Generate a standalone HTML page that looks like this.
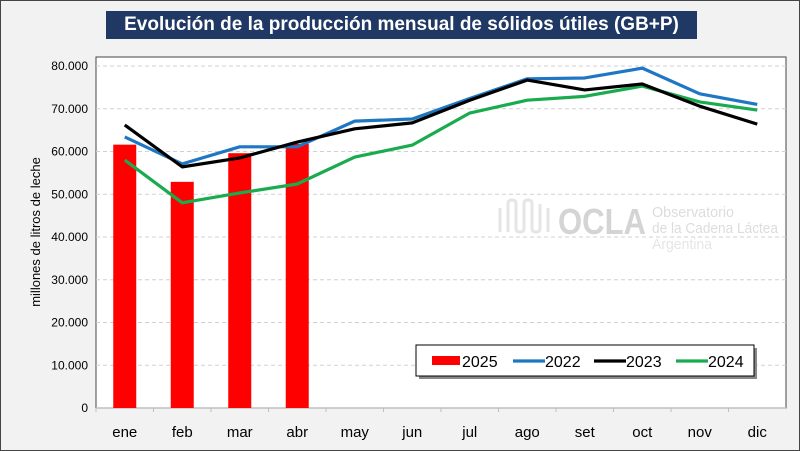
<!DOCTYPE html>
<html><head><meta charset="utf-8"><style>
body{margin:0;width:800px;height:451px;background:#f2f2f2;font-family:"Liberation Sans",sans-serif;overflow:hidden}
#frame{position:absolute;left:0;top:0;width:798px;height:449px;border:1px solid #444;background:#f2f2f2}
#title{position:absolute;left:106px;top:11px;width:591px;height:28px;background:#1f3864;color:#fff;font-weight:bold;font-size:19px;line-height:28px;text-align:center;font-family:"Liberation Sans Narrow","Liberation Sans",sans-serif;white-space:nowrap;overflow:hidden}
svg{position:absolute;left:0;top:0}
</style></head><body>
<div id="frame"></div>
<div id="title">Evolución de la producción mensual de sólidos útiles (GB+P)</div>
<svg id="chart" width="800" height="451"></svg>
<script>
const categories=["ene","feb","mar","abr","may","jun","jul","ago","set","oct","nov","dic"];
const yTicks=[0,10000,20000,30000,40000,50000,60000,70000,80000];
const yTickLabels=["0","10.000","20.000","30.000","40.000","50.000","60.000","70.000","80.000"];
const s2025=[61600,52900,59600,61800];
const s2022=[63400,57100,61100,61100,67100,67600,72400,77000,77200,79500,73500,71000];
const s2023=[66200,56400,58500,62200,65300,66700,72000,76700,74400,75800,70600,66400];
const s2024=[58000,48000,50300,52400,58700,61500,69000,72000,72900,75300,71600,69700];

const svg=document.getElementById('chart');const NS='http://www.w3.org/2000/svg';
const L=96,R=786,T=57,B=408;const bw=(R-L)/categories.length;
const x=i=>L+bw*(i+0.5);const y=v=>B-v/80000*(B-66);
function mk(t,a,p){const e=document.createElementNS(NS,t);for(const k in a)e.setAttribute(k,a[k]);(p||svg).appendChild(e);return e;}
let e=mk('rect',{x:L,y:T,width:R-L,height:B-T,fill:'#fff',stroke:'#444','stroke-width':1});


yTicks.forEach((v,i)=>{
 if(v>0){const g=mk('line',{x1:L,x2:R,y1:y(v),y2:y(v),stroke:'#d0d0d0','stroke-dasharray':'4,3'});
 
 }
 const t=mk('text',{x:L-8,y:y(v)+4,'text-anchor':'end','font-size':12,fill:'#000'});t.textContent=yTickLabels[i];
 
 
});
mk('line',{x1:L,x2:R,y1:B,y2:B,stroke:'#bfbfbf','stroke-width':1.5});
categories.forEach((c,i)=>{
 mk('line',{x1:L+bw*i,x2:L+bw*i,y1:B,y2:B+4,stroke:'#bfbfbf'});
 const t=mk('text',{x:x(i),y:437,'text-anchor':'middle','font-size':15,fill:'#000'});t.textContent=c;
 
 
});
const yt=mk('text',{x:0,y:0,transform:'translate(40,232) rotate(-90)','text-anchor':'middle','font-size':13});yt.textContent='millones de litros de leche';


// watermark
const wm=mk('g',{opacity:0.5});


mk('path',{d:'M500 232 V208 M508 232 V204 Q508 200 512 200 Q516 200 516 204 V228 Q516 232 520 232 Q524 232 524 228 V204 Q524 200 528 200 Q532 200 532 204 V228 Q532 232 536 232 Q540 232 540 228 V204 M548 232 V208',fill:'none',stroke:'#ccc','stroke-width':3},wm);
let w=mk('text',{x:558,y:234,'font-size':36,'font-weight':'bold',fill:'#aaa',textLength:88,lengthAdjust:'spacingAndGlyphs'},wm);w.textContent='OCLA';
w=mk('text',{x:652,y:217,'font-size':15,fill:'#bbb',textLength:82,lengthAdjust:'spacingAndGlyphs'},wm);w.textContent='Observatorio';
w=mk('text',{x:652,y:233,'font-size':15,fill:'#bbb',textLength:126,lengthAdjust:'spacingAndGlyphs'},wm);w.textContent='de la Cadena Láctea';
w=mk('text',{x:652,y:249,'font-size':15,fill:'#ccc',textLength:60,lengthAdjust:'spacingAndGlyphs'},wm);w.textContent='Argentina';
s2025.forEach((v,i)=>{const r=mk('rect',{x:x(i)-11.5,y:y(v),width:23,height:B-y(v),fill:'#ff0000'});
 
 });
[[s2022,'#1f77c4','2022'],[s2024,'#1aab4f','2024'],[s2023,'#000','2023']].forEach(([d,c,n])=>{
 const p=mk('polyline',{points:d.map((v,i)=>x(i)+','+y(v)).join(' '),fill:'none',stroke:c,'stroke-width':3.2,'stroke-linejoin':'round'});
 
 
});
// legend
const lg=mk('g',{});


mk('rect',{x:419,y:348,width:338,height:31,fill:'#888'},lg);
mk('rect',{x:416,y:345,width:338,height:31,fill:'#fff',stroke:'#000'},lg);
[['2025','#ff0000',true,432],['2022','#1f77c4',false,513],['2023','#000',false,594],['2024','#1aab4f',false,676]].forEach(([n,c,bar,lx])=>{
 if(bar)mk('rect',{x:lx,y:356,width:28,height:9,fill:c},lg);else mk('line',{x1:lx,x2:lx+32,y1:361,y2:361,stroke:c,'stroke-width':3.2},lg);
 const t=mk('text',{x:lx+(bar?30:32),y:367,'font-size':16},lg);t.textContent=n;
 
 
});
</script>
</body></html>
